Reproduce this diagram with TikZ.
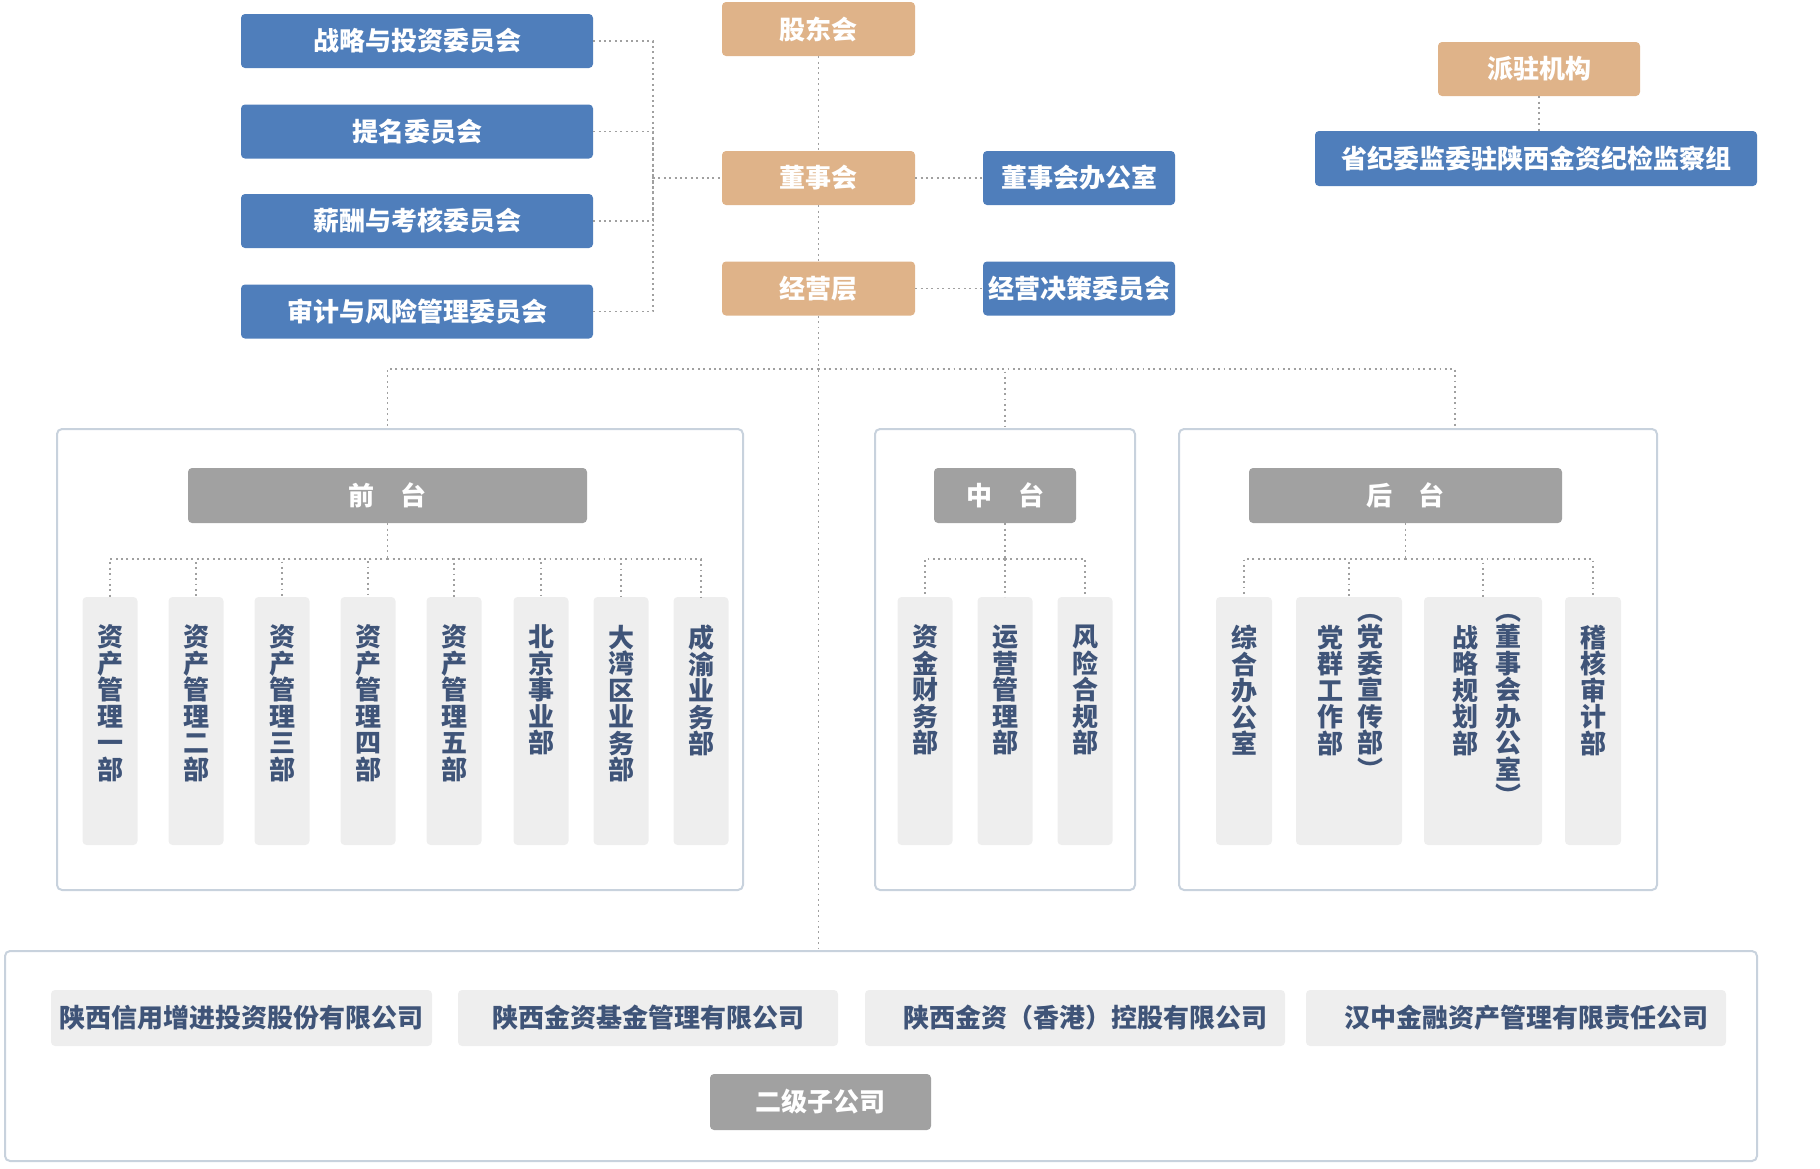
\documentclass[tikz,border=0pt]{standalone}
\usepackage{fontspec}
\setmainfont{Noto Sans CJK SC}
\usepackage{xcolor,tikz}
\usetikzlibrary{positioning}
\definecolor{govblue}{HTML}{4F7EBB}
\definecolor{govtan}{HTML}{DFB389}
\definecolor{hdrgray}{HTML}{A1A1A1}
\definecolor{cellgray}{HTML}{EEEEEE}
\definecolor{inkblue}{HTML}{3F5478}
\definecolor{framegray}{HTML}{C8D2DD}
\definecolor{dotgray}{HTML}{A0A0A0}

\begin{document}
\begin{tikzpicture}[x=1pt,y=-1pt,
  font=\bfseries\fontsize{26}{26.5}\selectfont,
  box/.style={rounded corners=4pt,inner sep=0pt,align=center},
  blue/.style={box,fill=govblue,text=white,minimum height=54pt},
  tan/.style={box,fill=govtan,text=white,minimum width=193pt,minimum height=54pt},
  hdr/.style={box,fill=hdrgray,text=white,minimum height=55pt},
  cell/.style={box,fill=cellgray,minimum width=55pt,minimum height=248pt},
  vlab/.style={anchor=north,align=center,inner sep=0pt,text=inkblue},
  firm/.style={box,fill=cellgray,text=inkblue,minimum height=56pt},
  frame/.style={draw=framegray,line width=2pt,rounded corners=5pt,minimum height=461pt},
  conn/.style={draw=dotgray,line width=1.9pt,dash pattern=on 1.9pt off 3.5pt}]
\useasboundingbox (0,0) rectangle (1820,1168);

% ---- committees of the board
\node[blue,minimum width=352pt] (c1) at (417,41) {战略与投资委员会};
\node[blue,minimum width=352pt] (c2) at (417,131.5) {提名委员会};
\node[blue,minimum width=352pt] (c3) at (417,221) {薪酬与考核委员会};
\node[blue,minimum width=352pt] (c4) at (417,311.5) {审计与风险管理委员会};

% ---- governance spine
\node[tan] (gdh) at (818.5,29) {股东会};
\node[tan] (dsh) at (818.5,178) {董事会};
\node[tan] (jyc) at (818.5,288.5) {经营层};
\node[blue,minimum width=192pt] (dsbgs) at (1079,178) {董事会办公室};
\node[blue,minimum width=192pt] (jyjc) at (1079,288.5) {经营决策委员会};
\coordinate (cj) at (653,178);
\draw[conn] (c1.east) -| (cj);
\draw[conn] (c2.east) -| (cj);
\draw[conn] (c3.east) -| (cj);
\draw[conn] (c4.east) -| (cj);
\draw[conn] (cj) -- (dsh.west);
\draw[conn] (gdh.south) -- (dsh.north);
\draw[conn] (dsh.south) -- (jyc.north);
\draw[conn] (dsh.east) -- (dsbgs.west);
\draw[conn] (jyc.east) -- (jyjc.west);

% ---- dispatched body
\node[tan,minimum width=202pt] (pz) at (1539,69) {派驻机构};
\node[blue,minimum width=442pt,minimum height=55pt] (jjz) at (1536,158.5) {省纪委监委驻陕西金资纪检监察组};
\draw[conn] (pz.south) -- (pz.south |- jjz.north);

% ---- the three platforms
\node[frame,minimum width=686pt] (qtbox) at (400,659.5) {};
\node[frame,minimum width=260pt] (ztbox) at (1005,659.5) {};
\node[frame,minimum width=478pt] (htbox) at (1418,659.5) {};
\node[hdr,minimum width=399pt] (qth) at (387.5,495.5) {前\hspace{1em}台};
\node[hdr,minimum width=142pt] (zth) at (1005,495.5) {中\hspace{1em}台};
\node[hdr,minimum width=313pt] (hth) at (1405.5,495.5) {后\hspace{1em}台};

% ---- front platform departments
\node[cell] (q1) at (110,721) {};
\node[cell] (q2) at (196,721) {};
\node[cell] (q3) at (282,721) {};
\node[cell] (q4) at (368,721) {};
\node[cell] (q5) at (454,721) {};
\node[cell] (q6) at (541,721) {};
\node[cell] (q7) at (621,721) {};
\node[cell] (q8) at (701,721) {};
\node[vlab] (q1t) at ([yshift=-28pt]q1.north) {资\\产\\管\\理\\一\\部};
\node[vlab] (q2t) at ([yshift=-28pt]q2.north) {资\\产\\管\\理\\二\\部};
\node[vlab] (q3t) at ([yshift=-28pt]q3.north) {资\\产\\管\\理\\三\\部};
\node[vlab] (q4t) at ([yshift=-28pt]q4.north) {资\\产\\管\\理\\四\\部};
\node[vlab] (q5t) at ([yshift=-28pt]q5.north) {资\\产\\管\\理\\五\\部};
\node[vlab] (q6t) at ([yshift=-28pt]q6.north) {北\\京\\事\\业\\部};
\node[vlab] (q7t) at ([yshift=-28pt]q7.north) {大\\湾\\区\\业\\务\\部};
\node[vlab] (q8t) at ([yshift=-28pt]q8.north) {成\\渝\\业\\务\\部};
\coordinate (qj) at (387.5,559);
\draw[conn] (qth.south) -- (qj);
\foreach \n in {1,...,8} \draw[conn] (qj) -| (q\n.north);

% ---- middle platform departments
\node[cell] (z1) at (925,721) {};
\node[cell] (z2) at (1005,721) {};
\node[cell] (z3) at (1085,721) {};
\node[vlab] (z1t) at ([yshift=-28pt]z1.north) {资\\金\\财\\务\\部};
\node[vlab] (z2t) at ([yshift=-28pt]z2.north) {运\\营\\管\\理\\部};
\node[vlab] (z3t) at ([yshift=-28pt]z3.north) {风\\险\\合\\规\\部};
\coordinate (zj) at (1005,559);
\draw[conn] (zth.south) -- (zj);
\foreach \n in {1,2,3} \draw[conn] (zj) -| (z\n.north);

% ---- back platform departments
\node[cell,minimum width=56pt] (h1) at (1244,721) {};
\node[cell,minimum width=106pt] (h2) at (1349,721) {};
\node[cell,minimum width=118pt] (h3) at (1483,721) {};
\node[cell,minimum width=56pt] (h4) at (1593,721) {};
\node[vlab] (h1t) at ([yshift=-28pt]h1.north) {综\\合\\办\\公\\室};
\node[vlab] (h2t) at (1330,625) {党\\群\\工\\作\\部};
\node[vlab] (h2p) at (1370,614) {︵\\党\\委\\宣\\传\\部\\︶};
\node[vlab] (h3t) at (1465,625) {战\\略\\规\\划\\部};
\node[vlab] (h3p) at (1508,614) {︵\\董\\事\\会\\办\\公\\室\\︶};
\node[vlab] (h4t) at ([yshift=-28pt]h4.north) {稽\\核\\审\\计\\部};
\coordinate (hj) at (1405.5,559);
\draw[conn] (hth.south) -- (hj);
\foreach \n in {1,...,4} \draw[conn] (hj) -| (h\n.north);

% ---- subsidiaries
\node[frame,minimum width=1752pt,minimum height=210pt] (sub) at (881,1056) {};
\node[firm,minimum width=381pt] (f1) at (241.5,1018) {陕西信用增进投资股份有限公司};
\node[firm,minimum width=380pt] (f2) at (648,1018) {陕西金资基金管理有限公司};
\node[firm,minimum width=420pt] (f3) at (1075,1018) {\hspace{20pt}陕西金资（香港）控股有限公司};
\node[firm,minimum width=420pt] (f4) at (1516,1018) {\hspace{20pt}汉中金融资产管理有限责任公司};
\node[hdr,minimum width=221pt,minimum height=56pt] (ejz) at (820.5,1102) {二级子公司};

% ---- links to the platforms and subsidiaries
\coordinate (bar) at (818.5,369);
\coordinate (hdrop) at (1455,429);
\draw[conn] (jyc.south) -- (jyc.south |- sub.north);
\draw[conn] (bar) -| (qth |- qtbox.north);
\draw[conn] (bar) -| (ztbox.north);
\draw[conn] (bar) -| (hdrop);
\end{tikzpicture}
\end{document}
